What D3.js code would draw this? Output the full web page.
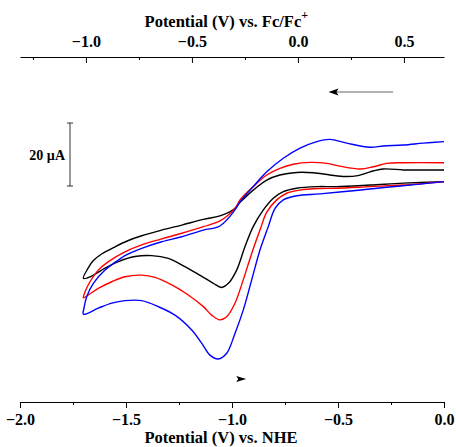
<!DOCTYPE html>
<html>
<head>
<meta charset="utf-8">
<title>Cyclic voltammograms</title>
<style>
	body { margin: 0; background: white; }
	#chart { display: block; }
	text { font-family: "Liberation Serif", "Times New Roman", serif; font-weight: bold; fill: black; }
	.tick text { font-size: 16px; }
	.axis-title { font-size: 16.5px; }
	.trace { fill: none; stroke-width: 1.4; }
</style>
</head>
<body>
<svg id="chart"></svg>
<script src="https://d3js.org/d3.v7.min.js"></script>
<script>
// potential (V vs. NHE), current (uA)
// each trace: cathodic sweep from 0.0 V down to -1.7 V, then back
var blackScan = [
	[0.0, 1.4], [-0.192, 0.9], [-0.349, 0.3], [-0.506, -0.2], [-0.600, -0.2], [-0.695, -0.7],
	[-0.758, -1.8], [-0.805, -3.9], [-0.852, -7.6], [-0.900, -12.9], [-0.939, -19.3], [-0.978, -26.7],
	[-1.017, -30.9], [-1.049, -32.2], [-1.088, -30.9], [-1.135, -29.0], [-1.222, -25.6], [-1.300, -23.0],
	[-1.379, -22.1], [-1.458, -22.4], [-1.536, -24.0], [-1.599, -26.1], [-1.662, -28.6], [-1.701, -29.3],
	[-1.678, -26.0], [-1.656, -23.8], [-1.615, -21.6], [-1.552, -19.3], [-1.489, -17.3], [-1.426, -15.8],
	[-1.332, -14.0], [-1.237, -12.4], [-1.135, -10.6], [-1.057, -9.5], [-0.995, -7.6], [-0.962, -5.2],
	[-0.900, -1.3], [-0.836, 1.9], [-0.774, 3.5], [-0.695, 4.3], [-0.617, 4.2], [-0.538, 3.5],
	[-0.467, 3.0], [-0.406, 3.3], [-0.349, 4.5], [-0.286, 5.4], [-0.192, 5.1], [-0.113, 5.1], [0.0, 5.1]
];
var redScan = [
	[0.0, 1.4], [-0.192, 0.3], [-0.349, -0.2], [-0.506, -0.7], [-0.585, -0.8], [-0.679, -1.3],
	[-0.742, -2.3], [-0.789, -4.4], [-0.836, -8.3], [-0.868, -14.0], [-0.907, -21.4], [-0.947, -29.8],
	[-0.986, -37.2], [-1.025, -41.5], [-1.057, -42.5], [-1.096, -41.0], [-1.135, -38.3], [-1.206, -34.6],
	[-1.284, -31.4], [-1.363, -29.0], [-1.426, -28.3], [-1.505, -28.8], [-1.567, -30.4], [-1.631, -32.5],
	[-1.678, -34.6], [-1.701, -35.5],
	[-1.693, -33.6], [-1.670, -30.4], [-1.631, -26.7], [-1.583, -24.0], [-1.505, -20.9], [-1.426, -18.7],
	[-1.332, -16.8], [-1.237, -15.0], [-1.135, -12.9], [-1.057, -11.1], [-0.986, -7.1], [-0.962, -4.4],
	[-0.900, -0.2], [-0.836, 3.5], [-0.774, 5.6], [-0.711, 6.9], [-0.632, 7.5], [-0.553, 7.2],
	[-0.491, 6.3], [-0.396, 5.4], [-0.333, 6.1], [-0.270, 7.2], [-0.192, 7.4], [0.0, 7.4]
];
var blueScan = [
	[0.0, 1.4], [-0.113, 0.6], [-0.270, -0.4], [-0.428, -1.5], [-0.585, -2.5], [-0.695, -3.1],
	[-0.758, -4.4], [-0.797, -7.1], [-0.829, -12.9], [-0.868, -20.3], [-0.907, -29.8], [-0.947, -39.4],
	[-0.986, -46.8], [-1.025, -53.1], [-1.065, -54.9], [-1.104, -53.7], [-1.143, -49.9], [-1.190, -45.7],
	[-1.269, -41.0], [-1.348, -38.3], [-1.426, -36.4], [-1.505, -36.4], [-1.567, -37.2], [-1.631, -38.8],
	[-1.701, -40.7],
	[-1.698, -38.7], [-1.685, -35.1], [-1.654, -30.9], [-1.599, -26.7], [-1.536, -23.5], [-1.505, -22.1],
	[-1.426, -19.8], [-1.332, -17.7], [-1.237, -16.1], [-1.135, -14.0], [-1.057, -12.7], [-0.986, -7.6],
	[-0.962, -5.0], [-0.900, -0.2], [-0.836, 4.5], [-0.758, 8.8], [-0.679, 12.0], [-0.600, 14.1],
	[-0.538, 14.8], [-0.459, 13.6], [-0.349, 12.3], [-0.286, 12.7], [-0.192, 13.0], [-0.098, 13.6], [0.0, 14.1]
];

var traces = [
	{ name: "black", color: "#000000", values: blackScan },
	{ name: "red", color: "#ff0000", values: redScan },
	{ name: "blue", color: "#0000ff", values: blueScan }
];

var nheTicks = [-2.0, -1.5, -1.0, -0.5, 0.0];
var nheMinor = [-1.75, -1.25, -0.75, -0.25];
var fcTicks = [-1.0, -0.5, 0.0, 0.5];
var fcMinor = [-1.25, -0.75, -0.25, 0.25];
var fcOffset = 0.689;       // E(NHE) = E(Fc/Fc+) - offset
var scaleBar = [0, 20];     // uA

var width = 456, height = 447;

var svg = d3.select("#chart")
	.attr("width", width)
	.attr("height", height);

var x = d3.scaleLinear().domain([-2.0, 0.0]).range([20, 444]);
var xFc = d3.scaleLinear().domain([-2.0 + fcOffset, fcOffset]).range([20, 444]);
var y = d3.scaleLinear().domain([0, 20]).range([186, 123]);

var fmt = d3.format(".1f");

// bottom axis (NHE)
var bottomY = 402;
svg.append("g")
	.attr("transform", `translate(0, ${bottomY})`)
	.call(d3.axisBottom(x).tickValues(nheTicks).tickFormat(fmt).tickSize(6).tickSizeOuter(0).tickPadding(6));
svg.append("g")
	.attr("transform", `translate(0, ${bottomY})`)
	.call(d3.axisBottom(x).tickValues(nheMinor).tickFormat("").tickSize(3).tickSizeOuter(0))
	.select(".domain").remove();

svg.append("text")
	.attr("class", "axis-title")
	.attr("text-anchor", "middle")
	.attr("x", x(-1.0) - 11)
	.attr("y", 443)
	.text("Potential (V) vs. NHE");

// top axis (Fc/Fc+), ticks hang inward
var topY = 57;
svg.append("g")
	.attr("transform", `translate(0, ${topY})`)
	.call(d3.axisTop(xFc).tickValues(fcTicks).tickFormat(fmt).tickSize(-6).tickSizeOuter(0).tickPadding(10));
svg.append("g")
	.attr("transform", `translate(0, ${topY})`)
	.call(d3.axisTop(xFc).tickValues(fcMinor).tickFormat("").tickSize(-3).tickSizeOuter(0))
	.select(".domain").remove();

var topTitle = svg.append("text")
	.attr("class", "axis-title")
	.attr("text-anchor", "middle")
	.attr("x", xFc(-0.3) - 8)
	.attr("y", 27);
topTitle.append("tspan").text("Potential (V) vs. Fc/Fc");
topTitle.append("tspan").attr("dy", -8).attr("font-size", "12px").text("+");

svg.selectAll(".domain, .tick line").attr("stroke", "#000").attr("stroke-width", 1);

// traces
var line = d3.line()
	.x(d => x(d[0]))
	.y(d => y(d[1]))
	.curve(d3.curveCatmullRom.alpha(0.5));

svg.selectAll(".trace")
	.data(traces)
	.enter().append("path")
	.attr("class", "trace")
	.attr("stroke", d => d.color)
	.attr("d", d => line(d.values));

// scale bar
var barX = 70;
var bar = svg.append("g").attr("stroke", "#333").attr("stroke-width", 1);
bar.append("line").attr("x1", barX).attr("x2", barX).attr("y1", y(scaleBar[0])).attr("y2", y(scaleBar[1]));
bar.selectAll(".cap").data(scaleBar)
	.enter().append("line")
	.attr("x1", barX - 3).attr("x2", barX + 3)
	.attr("y1", d => y(d)).attr("y2", d => y(d));
svg.append("text")
	.attr("text-anchor", "end")
	.attr("x", barX - 5)
	.attr("y", (y(scaleBar[0]) + y(scaleBar[1])) / 2 + 5)
	.attr("font-size", "14px")
	.text("20 \u00b5A");

// sweep direction arrows
svg.append("line")
	.attr("x1", x(-0.24)).attr("x2", x(-0.53))
	.attr("y1", 92).attr("y2", 92)
	.attr("stroke", "#999").attr("stroke-width", 1.3);
svg.append("path")
	.attr("d", `M${x(-0.545)},92 l10,-3.5 l-2,3.5 l2,3.5 z`)
	.attr("fill", "#000");
svg.append("path")
	.attr("d", `M${x(-0.98)},376 l10,3 l-10,3 l2,-3 z`)
	.attr("fill", "#000");
</script>
</body>
</html>
